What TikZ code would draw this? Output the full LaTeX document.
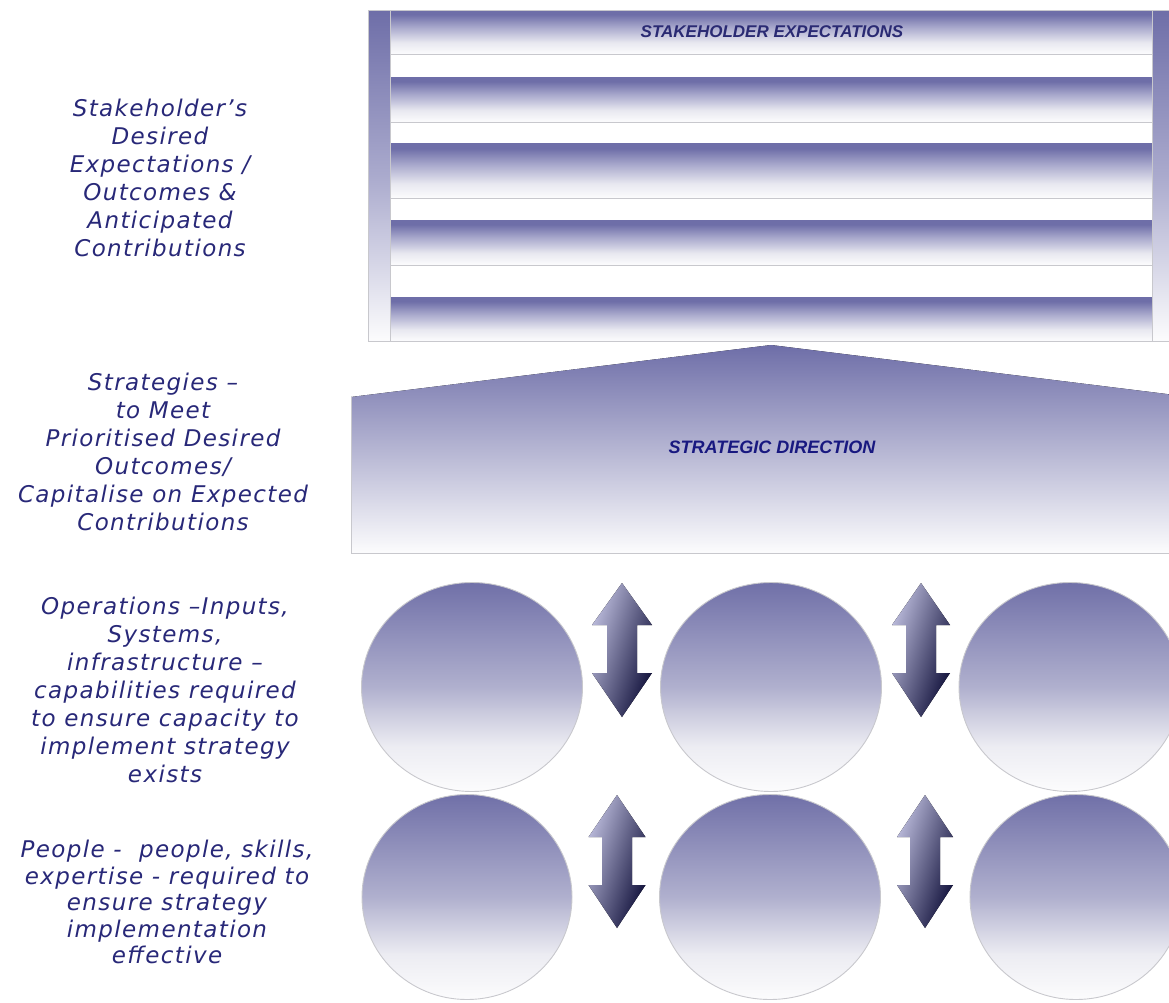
\documentclass[tikz,border=0pt]{standalone}
\usepackage{fontspec}
\setmainfont{DejaVu Sans}
\newfontfamily\lblfont[LetterSpace=6]{DejaVu Sans}
\newfontfamily\ttlfont{Liberation Sans}
\usetikzlibrary{shapes.geometric}
\definecolor{txtc}{RGB}{40,40,120}
\definecolor{ttlc}{RGB}{42,42,115}
\definecolor{ttlb}{RGB}{24,24,128}
\definecolor{banddark}{RGB}{110,110,168}
\definecolor{bandmid}{RGB}{170,170,205}
\definecolor{bandlo}{RGB}{232,232,240}
\definecolor{bandw}{RGB}{252,252,253}
\definecolor{glinec}{RGB}{200,200,205}
\definecolor{circtop}{RGB}{112,112,168}
\definecolor{circmid}{RGB}{176,176,206}
\definecolor{circlo}{RGB}{236,236,242}
\definecolor{circbot}{RGB}{252,252,253}
\definecolor{arrlight}{RGB}{190,190,222}
\definecolor{arrmid}{RGB}{70,70,124}
\definecolor{arrdark}{RGB}{14,14,56}
\pgfdeclareverticalshading{bandsh}{100bp}{color(0bp)=(bandw); color(25bp)=(bandw); color(38bp)=(bandlo); color(55bp)=(bandmid); color(70bp)=(banddark); color(75bp)=(banddark); color(100bp)=(banddark)}
\pgfdeclareverticalshading{circsh}{100bp}{color(0bp)=(circbot); color(25bp)=(circbot); color(36bp)=(circlo); color(50bp)=(circmid); color(75bp)=(circtop); color(100bp)=(circtop)}
\tikzset{
  gline/.style={draw=glinec, line width=1pt},
  bandbox/.style={shading=bandsh},
  sidebar/.style={top color=banddark, bottom color=bandw, middle color=bandmid},
  circ/.style={ellipse, draw=glinec, line width=0.9pt, shading=circsh, inner sep=0pt},
  dblarrshape/.style={top color=arrlight, middle color=arrmid, bottom color=arrdark, shading angle=72},
  lbl/.style={align=center, text=txtc, font=\lblfont\itshape\fontsize{23}{28}\selectfont, inner sep=0pt},
  ttl/.style={text=ttlc, font=\ttlfont\bfseries\itshape\fontsize{17}{20}\selectfont, inner sep=0pt}
}
\newcommand\dblarr[6]{%
  \fill[dblarrshape] (#1,#2) -- (#1+#6,#3) -- (#1+15,#3) -- (#1+15,#4) -- (#1+#6,#4) -- (#1,#5) -- (#1-#6,#4) -- (#1-15,#4) -- (#1-15,#3) -- (#1-#6,#3) -- cycle;}
\begin{document}
\begin{tikzpicture}[x=1pt,y=-1pt]
\useasboundingbox (0,0) rectangle (1169,1002);
% top box
\fill[sidebar] (368,10) rectangle (390,341);
\fill[sidebar] (1152,10) rectangle (1169,341);
\foreach \ya/\yb in {10/54, 77/122, 143/198, 220/265, 297/341}{
  \fill[bandbox] (390,\ya) rectangle (1152,\yb);
  \draw[gline] (390,\yb) -- (1152,\yb);
}
\draw[gline] (368,10) rectangle (1169,341);
\draw[gline] (390,10) -- (390,341);
\draw[gline] (1152,10) -- (1152,341);
\node[ttl] (ttl1) at (772,32) {STAKEHOLDER EXPECTATIONS};
% pentagon
\fill[top color=banddark, middle color=bandmid!85!white, bottom color=bandw] (351,553) -- (351,397) -- (771,345) -- (1191,397) -- (1191,553) -- cycle;
\draw[gline] (351,397) -- (351,553) -- (1191,553);
\node[ttl, text=ttlb, font=\ttlfont\bfseries\itshape\fontsize{18}{20}\selectfont] (ttl2) at (772,447) {STRATEGIC DIRECTION};
% circles
\node[circ, minimum width=221pt, minimum height=209pt] (c11) at (472,687) {};
\node[circ, minimum width=221pt, minimum height=209pt] (c12) at (771,687) {};
\node[circ, minimum width=222pt, minimum height=209pt] (c13) at (1070,687) {};
\node[circ, minimum width=210pt, minimum height=205pt] (c21) at (467,897) {};
\node[circ, minimum width=221pt, minimum height=205pt] (c22) at (770,897) {};
\node[circ, minimum width=212pt, minimum height=205pt] (c23) at (1076,897) {};
% arrows
\dblarr{622}{583}{625}{673}{717}{30}
\dblarr{921}{583}{625}{673}{717}{29}
\dblarr{617}{795}{837}{885}{928}{28.5}
\dblarr{925}{795}{837}{885}{928}{28}
% labels
\node[lbl] (lbl1) at (160,178) {Stakeholder’s\\Desired\\Expectations /\\Outcomes \&\\Anticipated\\Contributions};
\node[lbl] (lbl2) at (163,452) {Strategies –\\to Meet\\Prioritised Desired\\Outcomes/\\Capitalise on Expected\\Contributions};
\node[lbl] (lbl3) at (165,690) {Operations –Inputs,\\Systems,\\infrastructure –\\capabilities required\\to ensure capacity to\\implement strategy\\exists};
\node[lbl, font=\lblfont\itshape\fontsize{23}{26.5}\selectfont] (lbl4) at (167,902) {People -~ people, skills,\\expertise - required to\\ensure strategy\\implementation\\effective};
\end{tikzpicture}
\end{document}
